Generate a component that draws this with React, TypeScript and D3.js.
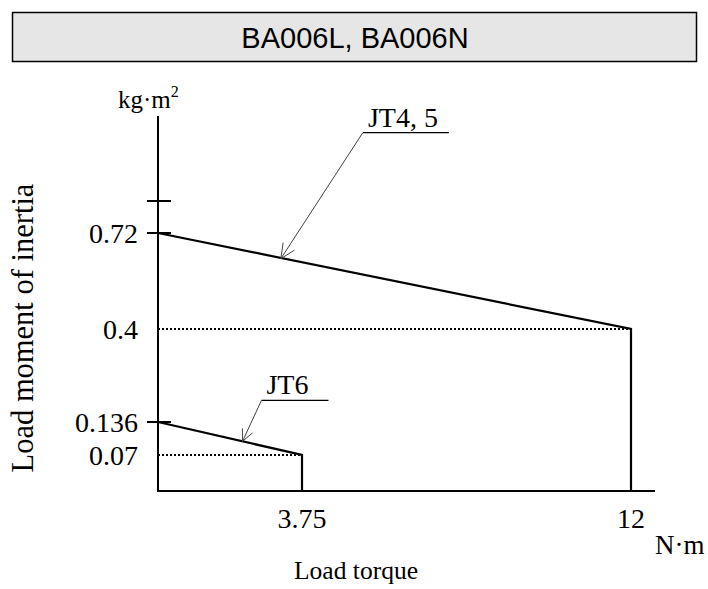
import React from "react";
import * as d3 from "d3";

// chart values
const title = "BA006L, BA006N";
const torqueStops = [0, 3.75, 12, 12.6];                 // x scale breakpoints (N·m), schematic axis
const inertiaStops = [0, 0.07, 0.136, 0.4, 0.72, 0.8, 0.9]; // y scale breakpoints (kg·m²), schematic axis
const xTicks = [3.75, 12];
const xTickLabels = ["3.75", "12"];
const yTicks = [0.07, 0.136, 0.4, 0.72];
const yTickLabels = ["0.07", "0.136", "0.4", "0.72"];
const yTickMarks = [0.136, 0.72, 0.8];                   // short dashes on the axis (0.8 is unlabeled)
const seriesNames = ["JT4, 5", "JT6"];
const maxTorque = [12, 3.75];
const inertiaAtZero = [0.72, 0.136];
const inertiaAtMax = [0.4, 0.07];
const arrowTorque = [3.2, 2.2];                          // where each leader arrow touches its line

const W = 708;
const H = 589;
const serif = "'Liberation Serif', 'Times New Roman', serif";
const sans = "'Liberation Sans', Arial, sans-serif";

// leader geometry (px offsets from the arrow tip)
const leaders = [
  { dx: 82, dy: -126, under: 86, head: 16 },
  { dx: 19, dy: -41, under: 67, head: 13 },
];

export default function App() {
  const x = d3.scaleLinear().domain(torqueStops).range([158, 302, 631, 655]);
  const y = d3.scaleLinear().domain(inertiaStops).range([491, 455, 422, 329, 233, 201, 116]);
  const x0 = x(0);
  const y0 = y(0);

  const line = d3.line<[number, number]>().x((d) => x(d[0])).y((d) => y(d[1]));

  const series = seriesNames.map((name, i) => {
    const slope = (inertiaAtMax[i] - inertiaAtZero[i]) / maxTorque[i];
    const t = arrowTorque[i];
    return {
      name,
      path: line([[0, inertiaAtZero[i]], [maxTorque[i], inertiaAtMax[i]], [maxTorque[i], 0]]),
      dotted: line([[0, inertiaAtMax[i]], [maxTorque[i], inertiaAtMax[i]]]),
      tip: [x(t), y(inertiaAtZero[i] + slope * t)] as [number, number],
    };
  });

  return (
    <svg width={W} height={H} style={{ position: "absolute", left: 0, top: 0, background: "#fff" }}>
      {/* title box */}
      <rect x={12.5} y={12.5} width={684} height={49} fill="#e6e6e6" stroke="#000" strokeWidth={1.5} />
      <text x={355} y={48} textAnchor="middle" fontFamily={sans} fontSize={29} fill="#000">
        {title}
      </text>

      {/* axes */}
      <line x1={x0} y1={y(0.9)} x2={x0} y2={y0 + 1} stroke="#000" strokeWidth={2} />
      <line x1={x0 - 1} y1={y0} x2={x(12.6)} y2={y0} stroke="#000" strokeWidth={2} />
      {yTickMarks.map((v) => (
        <line key={v} x1={x0 - 11} x2={x0 + 13} y1={y(v)} y2={y(v)} stroke="#000" strokeWidth={2} />
      ))}
      {yTicks.map((v, i) => (
        <text key={v} x={x0 - 20} y={y(v) + 10} textAnchor="end" fontFamily={serif} fontSize={28}>
          {yTickLabels[i]}
        </text>
      ))}
      {xTicks.map((v, i) => (
        <text key={v} x={x(v)} y={y0 + 37} textAnchor="middle" fontFamily={serif} fontSize={28}>
          {xTickLabels[i]}
        </text>
      ))}

      {/* units and titles */}
      <text x={118} y={108} fontFamily={serif} fontSize={25}>
        kg·m<tspan dy={-11} fontSize={16}>2</tspan>
      </text>
      <text x={655} y={554} fontFamily={serif} fontSize={27}>N·m</text>
      <text x={356} y={579} textAnchor="middle" fontFamily={serif} fontSize={25.5}>Load torque</text>
      <text
        transform={`translate(33,328) rotate(-90)`}
        textAnchor="middle"
        fontFamily={serif}
        fontSize={30.5}
      >
        Load moment of inertia
      </text>

      {/* series */}
      {series.map((s) => (
        <g key={s.name}>
          <path d={s.dotted ?? ""} fill="none" stroke="#000" strokeWidth={2} strokeDasharray="2,2" />
          <path d={s.path ?? ""} fill="none" stroke="#000" strokeWidth={2.2} />
        </g>
      ))}

      {/* leaders */}
      {series.map((s, i) => {
        const L = leaders[i];
        const [tx, ty] = s.tip;
        const sx = tx + L.dx;
        const sy = ty + L.dy;
        const ang = Math.atan2(L.dy, L.dx);
        const a1 = ang - (25 * Math.PI) / 180;
        const a2 = ang + (25 * Math.PI) / 180;
        return (
          <g key={s.name} stroke="#444" strokeWidth={1} fill="none">
            <line x1={tx} y1={ty} x2={sx} y2={sy} />
            <line x1={sx} y1={sy} x2={sx + L.under} y2={sy} stroke="#000" strokeWidth={1.2} />
            <line x1={tx} y1={ty} x2={tx + L.head * Math.cos(a1)} y2={ty + L.head * Math.sin(a1)} />
            <line x1={tx} y1={ty} x2={tx + L.head * Math.cos(a2)} y2={ty + L.head * Math.sin(a2)} />
            <text x={sx + 5} y={sy - 6} fontFamily={serif} fontSize={28} fill="#000" stroke="none">
              {s.name}
            </text>
          </g>
        );
      })}
    </svg>
  );
}
